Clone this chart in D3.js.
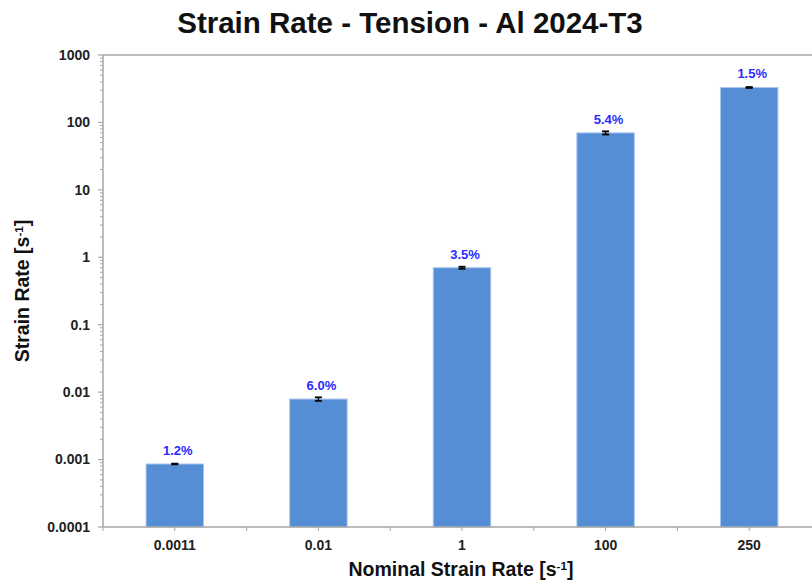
<!DOCTYPE html>
<html>
<head>
<meta charset="utf-8">
<script src="https://cdn.jsdelivr.net/npm/d3@7"></script>
<style>
  html, body { margin: 0; padding: 0; background: #fff; }
  svg { display: block; font-family: "Liberation Sans", Arial, sans-serif; }
</style>
</head>
<body>
<svg id="chart" width="812" height="580"></svg>
<script>
// Nominal strain-rate groups and measured mean strain rates (s^-1)
const categories = ["0.0011", "0.01", "1", "100", "250"];
const strainRates = [0.00086, 0.0079, 0.70, 70, 330];
// Scatter of each group, as percent of the mean
const scatterPct = [1.2, 6.0, 3.5, 5.4, 1.5];
const yTicks = [0.0001, 0.001, 0.01, 0.1, 1, 10, 100, 1000];
const yTickLabels = ["0.0001", "0.001", "0.01", "0.1", "1", "10", "100", "1000"];

const svg = d3.select("#chart");
const m = { left: 103, right: 821, top: 55, bottom: 527 };
const axisColor = "#a6a6a6";

const x = d3.scaleBand().domain(categories).range([m.left, m.right]).paddingInner(0).paddingOuter(0);
const y = d3.scaleLog().domain([0.0001, 1000]).range([m.bottom, m.top]);

// Title
svg.append("text")
  .attr("x", 410).attr("y", 33)
  .attr("text-anchor", "middle")
  .attr("font-size", 29.5).attr("font-weight", "bold")
  .attr("fill", "#111")
  .text("Strain Rate - Tension - Al 2024-T3");

// Top frame line
svg.append("line")
  .attr("x1", m.left).attr("x2", m.right)
  .attr("y1", m.top).attr("y2", m.top)
  .attr("stroke", axisColor).attr("stroke-width", 1.5);

// Y axis with log minor ticks
const minorTicks = [];
for (let e = -4; e < 3; e++) {
  for (let k = 2; k <= 9; k++) minorTicks.push(k * Math.pow(10, e));
}
const gy = svg.append("g");
gy.selectAll("line.minor").data(minorTicks).join("line")
  .attr("class", "minor")
  .attr("x1", m.left - 3).attr("x2", m.left)
  .attr("y1", d => y(d)).attr("y2", d => y(d))
  .attr("stroke", axisColor).attr("stroke-width", 1);
gy.selectAll("line.major").data(yTicks).join("line")
  .attr("class", "major")
  .attr("x1", m.left - 5).attr("x2", m.left)
  .attr("y1", d => y(d)).attr("y2", d => y(d))
  .attr("stroke", axisColor).attr("stroke-width", 1.2);
gy.selectAll("text").data(yTicks).join("text")
  .attr("x", m.left - 13).attr("y", d => y(d))
  .attr("dy", "0.35em")
  .attr("text-anchor", "end")
  .attr("font-size", 14).attr("font-weight", "bold").attr("fill", "#222")
  .text((d, i) => yTickLabels[i]);
gy.append("line")
  .attr("x1", m.left).attr("x2", m.left)
  .attr("y1", m.top).attr("y2", m.bottom)
  .attr("stroke", axisColor).attr("stroke-width", 1.5);

// Bars
const barW = x.bandwidth() * 0.4;
svg.append("g").selectAll("rect").data(categories).join("rect")
  .attr("x", d => x(d) + (x.bandwidth() - barW) / 2)
  .attr("width", barW)
  .attr("y", (d, i) => y(strainRates[i]))
  .attr("height", (d, i) => m.bottom - y(strainRates[i]))
  .attr("fill", "#558ed5")
  .attr("stroke", "#a9c6ee").attr("stroke-width", 1);

// Error bars
const eg = svg.append("g");
categories.forEach((c, i) => {
  const cx = x(c) + x.bandwidth() / 2;
  const lo = strainRates[i] * (1 - scatterPct[i] / 100);
  const hi = strainRates[i] * (1 + scatterPct[i] / 100);
  eg.append("line").attr("x1", cx).attr("x2", cx).attr("y1", y(lo)).attr("y2", y(hi))
    .attr("stroke", "#000").attr("stroke-width", 1.5);
  [lo, hi].forEach(v => eg.append("line")
    .attr("x1", cx - 3.5).attr("x2", cx + 3.5).attr("y1", y(v)).attr("y2", y(v))
    .attr("stroke", "#000").attr("stroke-width", 1.8));
});

// Percentage labels above bars
svg.append("g").selectAll("text").data(categories).join("text")
  .attr("x", d => x(d) + x.bandwidth() / 2 + 3)
  .attr("y", (d, i) => y(strainRates[i]) - 9)
  .attr("text-anchor", "middle")
  .attr("font-size", 13).attr("font-weight", "bold").attr("fill", "#2a2aff")
  .text((d, i) => scatterPct[i].toFixed(1) + "%");

// X axis
const xTickPos = [];
categories.forEach(c => { xTickPos.push(x(c)); xTickPos.push(x(c) + x.bandwidth() / 2); });
xTickPos.push(m.right);
svg.append("g").selectAll("line").data(xTickPos).join("line")
  .attr("x1", d => d).attr("x2", d => d)
  .attr("y1", m.bottom).attr("y2", m.bottom + 4)
  .attr("stroke", axisColor).attr("stroke-width", 1);
svg.append("line")
  .attr("x1", m.left).attr("x2", m.right)
  .attr("y1", m.bottom).attr("y2", m.bottom)
  .attr("stroke", axisColor).attr("stroke-width", 1.5);
svg.append("g").selectAll("text").data(categories).join("text")
  .attr("x", d => x(d) + x.bandwidth() / 2)
  .attr("y", 550)
  .attr("text-anchor", "middle")
  .attr("font-size", 14).attr("font-weight", "bold").attr("fill", "#222")
  .text(d => d);

// Axis titles with superscript units
function unitTitle(sel, label) {
  sel.append("tspan").text(label + " [s");
  sel.append("tspan").attr("baseline-shift", "super").attr("font-size", "0.6em").text("-1");
  sel.append("tspan").text("]");
}
const xt = svg.append("text")
  .attr("x", 461).attr("y", 576)
  .attr("text-anchor", "middle")
  .attr("font-size", 19.5).attr("font-weight", "bold").attr("fill", "#111");
unitTitle(xt, "Nominal Strain Rate");

const yt = svg.append("text")
  .attr("transform", "translate(29,291) rotate(-90)")
  .attr("text-anchor", "middle")
  .attr("font-size", 19.5).attr("font-weight", "bold").attr("fill", "#111");
unitTitle(yt, "Strain Rate");
</script>
</body>
</html>
